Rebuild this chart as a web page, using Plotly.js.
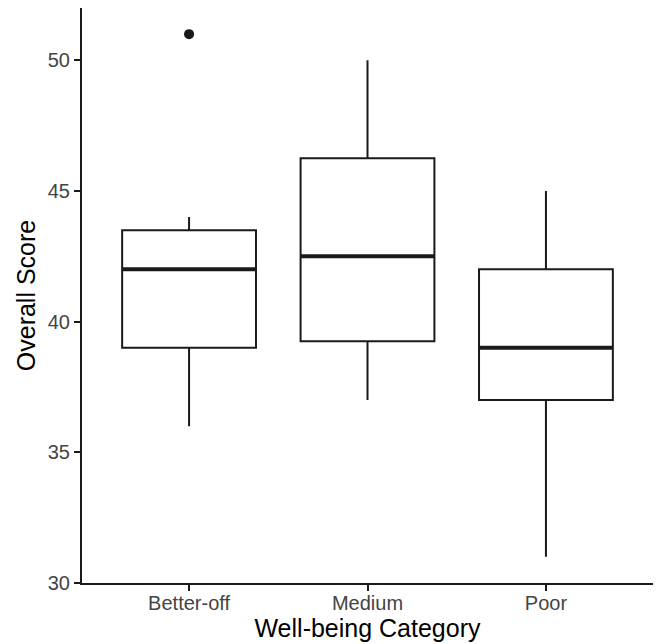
<!DOCTYPE html>
<html>
<head>
<meta charset="utf-8">
<script src="https://cdn.plot.ly/plotly-3.0.1.min.js"></script>
<style>
html,body{margin:0;padding:0;background:#fff;}
#chart{width:656px;height:644px;}
</style>
</head>
<body>
<div id="chart"></div>
<script>
// Data
var categories = ['Better-off', 'Medium', 'Poor'];
var lowerWhisker = [36, 37, 31];
var q1Values = [39, 39.25, 37];
var medianValues = [42, 42.5, 39];
var q3Values = [43.5, 46.25, 42];
var upperWhisker = [44, 50, 45];
var outlierCategories = ['Better-off'];
var outlierValues = [51];
var yTicks = [30, 35, 40, 45, 50];

var font = 'Liberation Sans, Arial, Helvetica, sans-serif';

var boxTrace = {
  type: 'box',
  x: categories,
  q1: q1Values,
  median: medianValues,
  q3: q3Values,
  lowerfence: lowerWhisker,
  upperfence: upperWhisker,
  width: 0.75,
  fillcolor: 'rgba(255,255,255,1)',
  line: {color: '#1a1a1a', width: 2},
  whiskerwidth: 0,
  boxpoints: false,
  hoverinfo: 'skip',
  showlegend: false
};

// thick median bars: degenerate boxes at the median
var medianTrace = {
  type: 'box',
  x: categories,
  q1: medianValues,
  median: medianValues,
  q3: medianValues,
  lowerfence: medianValues,
  upperfence: medianValues,
  width: 0.75,
  fillcolor: 'rgba(0,0,0,0)',
  line: {color: '#1a1a1a', width: 4},
  whiskerwidth: 0,
  boxpoints: false,
  hoverinfo: 'skip',
  showlegend: false
};

var outlierTrace = {
  type: 'scatter',
  mode: 'markers',
  x: outlierCategories,
  y: outlierValues,
  marker: {color: '#1a1a1a', size: 10},
  hoverinfo: 'skip',
  showlegend: false
};

var layout = {
  width: 656,
  height: 644,
  margin: {l: 82, r: 3, t: 8, b: 61},
  paper_bgcolor: '#fff',
  plot_bgcolor: '#fff',
  showlegend: false,
  boxmode: 'overlay',
  font: {family: font, color: '#000'},
  xaxis: {
    type: 'category',
    categoryorder: 'array',
    categoryarray: categories,
    range: [-0.6, 2.6],
    showgrid: false,
    zeroline: false,
    showline: true,
    linecolor: '#1a1a1a',
    linewidth: 2,
    ticks: 'outside',
    ticklen: 6,
    tickwidth: 2,
    tickcolor: '#1a1a1a',
    ticklabelstandoff: -5,
    tickfont: {family: font, size: 20, color: '#444444'},
    title: {text: 'Well-being Category', font: {family: font, size: 25, color: '#000'}, standoff: 6},
    fixedrange: true
  },
  yaxis: {
    range: [30, 52],
    tickvals: yTicks,
    ticktext: yTicks.map(String),
    showgrid: false,
    zeroline: false,
    showline: true,
    linecolor: '#1a1a1a',
    linewidth: 2,
    ticks: 'outside',
    ticklen: 6,
    tickwidth: 2,
    tickcolor: '#1a1a1a',
    tickfont: {family: font, size: 20, color: '#444444'},
    title: {text: 'Overall Score', font: {family: font, size: 25, color: '#000'}, standoff: 5},
    fixedrange: true
  }
};

Plotly.newPlot('chart', [boxTrace, medianTrace, outlierTrace], layout, {displayModeBar: false, staticPlot: true});
</script>
</body>
</html>
